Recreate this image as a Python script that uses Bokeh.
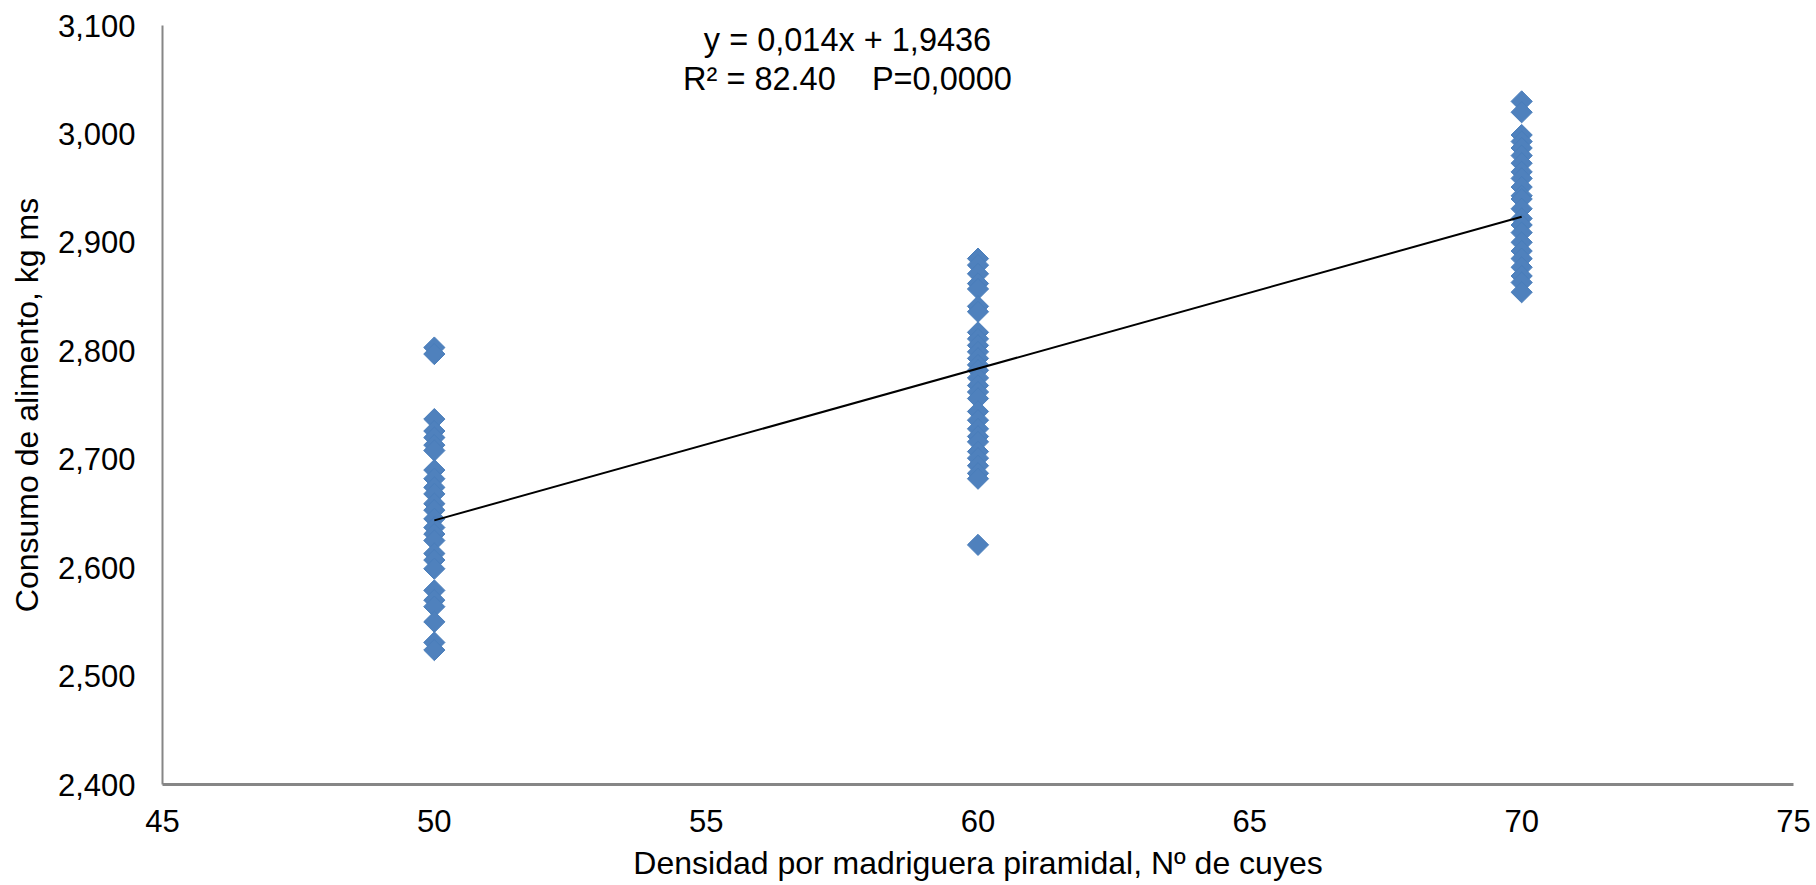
import numpy as np
from bokeh.plotting import figure
from bokeh.models import FixedTicker, NumeralTickFormatter, ColumnDataSource
from bokeh.core.properties import value
from bokeh.embed import file_html
from bokeh.resources import INLINE

# ---- data ----
dens_50 = [2803, 2797, 2737, 2726, 2720, 2713, 2708, 2690, 2682, 2674, 2668, 2659,
           2653, 2645, 2637, 2631, 2625, 2613, 2607, 2599, 2579, 2570, 2564, 2550,
           2531, 2524]
dens_60 = [2885, 2879, 2871, 2862, 2857, 2841, 2836, 2817, 2811, 2805, 2799, 2793,
           2787, 2782, 2775, 2768, 2762, 2756, 2744, 2736, 2728, 2721, 2716, 2707,
           2701, 2694, 2687, 2682, 2621]
dens_70 = [3030, 3020, 2999, 2993, 2987, 2980, 2973, 2965, 2959, 2951, 2943, 2940,
           2931, 2922, 2916, 2909, 2900, 2892, 2885, 2877, 2869, 2863, 2854]
groups = [50, 60, 70]
slope = 0.014      # kg ms per cuy
intercept = 1.9436 # kg ms
x_ticks = [45, 50, 55, 60, 65, 70, 75]
y_ticks = [2400, 2500, 2600, 2700, 2800, 2900, 3000, 3100]
eq_line1 = "y = 0,014x + 1,9436"
eq_line2 = "R² = 82.40" + "\u00a0" * 4 + "P=0,0000"

xs, ys = [], []
for g, vals in zip(groups, [dens_50, dens_60, dens_70]):
    xs += [g] * len(vals)
    ys += vals
src = ColumnDataSource(dict(x=xs, y=ys))

FONT = "Liberation Sans"

p = figure(width=1816, height=885, output_backend="svg", toolbar_location=None,
           x_range=(45, 75), y_range=(2400, 3100),
           min_border_left=162, min_border_right=23, min_border_top=25,
           min_border_bottom=101)
p.outline_line_color = None
p.grid.visible = False
p.background_fill_color = "white"
p.border_fill_color = "white"

p.scatter("x", "y", source=src, marker="square", size=15, angle=np.pi / 4,
          fill_color="#4F81BD", line_color="#4A7EBB", line_width=1)

lx = [groups[0], groups[-1]]
ly = [1000 * (slope * v + intercept) for v in lx]
p.line(lx, ly, line_color="black", line_width=2)

p.text(x=[57.6, 57.6], y=[3087, 3051], text=[eq_line1, eq_line2],
       text_font=value(FONT), text_font_size="32.5px", text_align="center",
       text_baseline="middle", text_color="black")

for ax in (p.xaxis, p.yaxis):
    ax.axis_line_color = "#868686"
    ax.major_tick_line_color = None
    ax.minor_tick_line_color = None
    ax.major_label_text_font = FONT
    ax.major_label_text_font_size = "31px"
    ax.major_label_text_color = "black"
    ax.axis_label_text_font = FONT
    ax.axis_label_text_font_size = "32px"
    ax.axis_label_text_font_style = "normal"
    ax.axis_label_text_color = "black"

p.xaxis.axis_line_width = 3
p.yaxis.axis_line_width = 2
p.xaxis.ticker = FixedTicker(ticks=x_ticks)
p.yaxis.ticker = FixedTicker(ticks=y_ticks)
p.yaxis.formatter = NumeralTickFormatter(format="0,0")
p.xaxis.axis_label = "Densidad por madriguera piramidal, Nº de cuyes"
p.yaxis.axis_label = "Consumo de alimento, kg ms"
p.xaxis.major_label_standoff = 19
p.yaxis.major_label_standoff = 21
p.xaxis.axis_label_standoff = 10
p.yaxis.axis_label_standoff = 10

open("out.html", "w").write(file_html(p, INLINE))
